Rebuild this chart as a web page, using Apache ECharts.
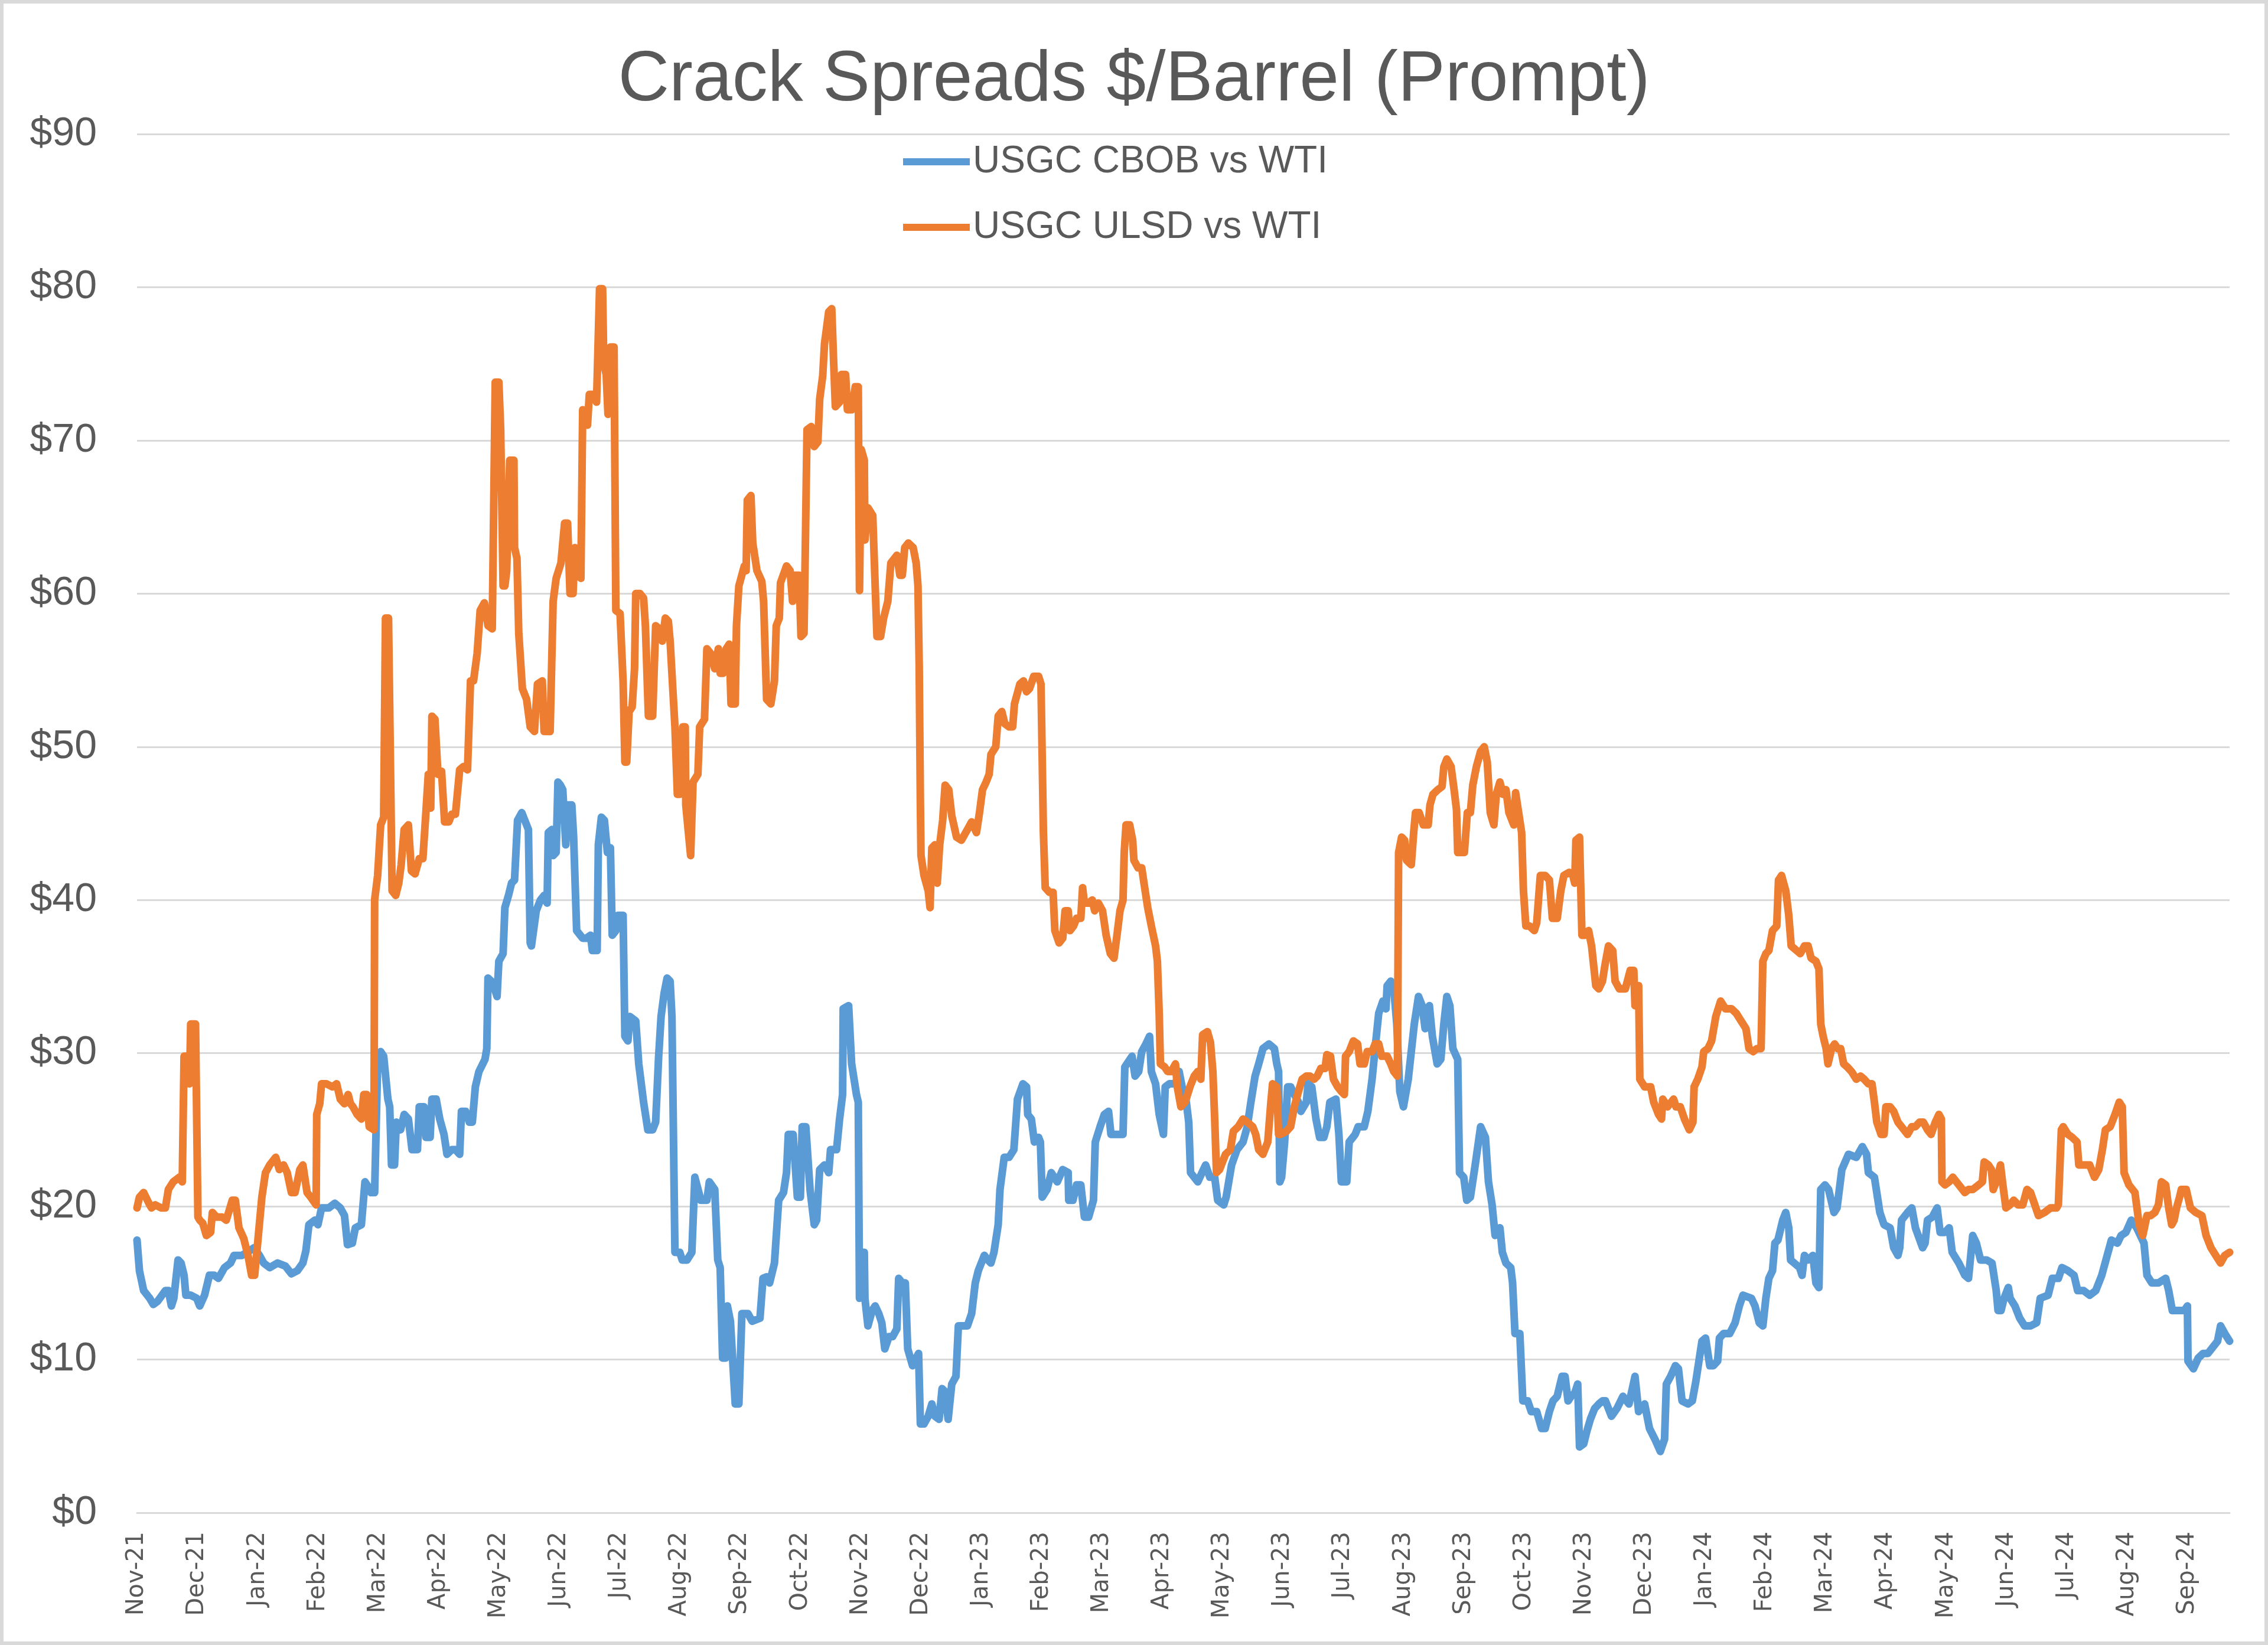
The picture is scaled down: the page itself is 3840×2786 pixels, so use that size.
<!DOCTYPE html>
<html><head><meta charset="utf-8">
<script src="https://cdn.jsdelivr.net/npm/echarts@6/dist/echarts.min.js"></script>
<style>html,body{margin:0;padding:0;background:#fff}#c{width:3840px;height:2786px}</style>
</head><body><div id="c"></div>
<script>
// x-axis tick labels (one per month, starting 1-Nov-2021)
const monthLabels = ['Nov-21','Dec-21','Jan-22','Feb-22','Mar-22','Apr-22','May-22','Jun-22','Jul-22','Aug-22','Sep-22','Oct-22','Nov-22','Dec-22','Jan-23','Feb-23','Mar-23','Apr-23','May-23','Jun-23','Jul-23','Aug-23','Sep-23','Oct-23','Nov-23','Dec-23','Jan-24','Feb-24','Mar-24','Apr-24','May-24','Jun-24','Jul-24','Aug-24','Sep-24'];
const seriesNames = ['USGC CBOB vs WTI', 'USGC ULSD vs WTI'];
// data points: [time in months elapsed since 1-Nov-2021, $/barrel]
const cbob = [[0.00,17.8],[0.04,15.8],[0.11,14.5],[0.21,14.0],[0.27,13.6],[0.34,13.8],[0.47,14.5],[0.52,14.5],[0.57,13.5],[0.61,14.0],[0.68,16.5],[0.73,16.3],[0.78,15.5],[0.81,14.2],[0.89,14.2],[0.99,14.0],[1.04,13.5],[1.12,14.2],[1.20,15.5],[1.28,15.5],[1.35,15.3],[1.45,16.0],[1.55,16.3],[1.61,16.8],[1.74,16.8],[1.87,17.1],[1.94,17.3],[2.03,16.8],[2.10,16.3],[2.20,16.0],[2.33,16.3],[2.46,16.1],[2.56,15.6],[2.66,15.8],[2.75,16.3],[2.80,17.1],[2.85,18.8],[2.95,19.1],[3.00,18.8],[3.06,19.9],[3.18,19.9],[3.28,20.2],[3.37,19.9],[3.44,19.4],[3.49,17.5],[3.57,17.6],[3.62,18.6],[3.72,18.8],[3.78,21.6],[3.83,21.3],[3.88,20.9],[3.94,20.9],[3.99,29.3],[4.04,30.1],[4.09,29.8],[4.16,27.0],[4.19,26.5],[4.22,22.7],[4.27,22.7],[4.30,25.5],[4.37,25.0],[4.43,26.0],[4.50,25.7],[4.56,23.7],[4.65,23.7],[4.68,26.5],[4.76,26.5],[4.79,24.5],[4.86,24.5],[4.89,27.0],[4.96,27.0],[5.02,25.7],[5.09,24.7],[5.14,23.4],[5.22,23.7],[5.28,23.7],[5.35,23.4],[5.38,26.2],[5.45,26.2],[5.51,25.5],[5.56,25.5],[5.61,27.8],[5.67,28.8],[5.77,29.6],[5.80,30.3],[5.82,34.9],[5.90,34.6],[5.97,33.7],[6.00,36.0],[6.07,36.5],[6.10,39.5],[6.16,40.3],[6.21,41.1],[6.26,41.3],[6.31,45.2],[6.38,45.7],[6.43,45.2],[6.49,44.6],[6.52,37.2],[6.54,37.0],[6.62,39.3],[6.69,40.0],[6.75,40.3],[6.80,39.8],[6.82,44.4],[6.88,44.6],[6.90,42.9],[6.95,43.1],[6.98,47.7],[7.02,47.5],[7.06,47.2],[7.11,43.6],[7.14,46.2],[7.21,46.2],[7.24,44.1],[7.29,38.0],[7.39,37.5],[7.45,37.5],[7.52,37.7],[7.55,36.7],[7.63,36.7],[7.65,43.6],[7.70,45.4],[7.75,45.2],[7.80,43.1],[7.85,43.4],[7.88,37.7],[7.94,38.0],[7.98,39.0],[8.06,39.0],[8.09,31.1],[8.14,30.8],[8.17,32.4],[8.27,32.1],[8.32,29.3],[8.40,26.8],[8.47,25.0],[8.55,25.0],[8.60,25.5],[8.65,29.8],[8.69,32.4],[8.74,33.9],[8.79,34.9],[8.84,34.7],[8.87,32.4],[8.92,17.0],[9.00,17.0],[9.04,16.5],[9.12,16.5],[9.20,17.0],[9.25,21.9],[9.35,20.4],[9.45,20.4],[9.49,21.6],[9.58,21.1],[9.63,16.5],[9.67,16.0],[9.71,10.1],[9.76,10.1],[9.79,13.5],[9.84,12.5],[9.92,7.1],[9.98,7.1],[10.03,13.0],[10.13,13.0],[10.20,12.5],[10.33,12.7],[10.38,15.3],[10.44,15.4],[10.49,15.0],[10.57,16.3],[10.64,20.4],[10.72,20.9],[10.77,22.2],[10.80,24.7],[10.88,24.7],[10.95,20.6],[11.00,20.6],[11.03,25.2],[11.09,25.2],[11.16,21.1],[11.23,18.8],[11.27,19.1],[11.32,22.4],[11.40,22.7],[11.47,22.2],[11.50,23.7],[11.60,23.7],[11.65,25.7],[11.70,27.3],[11.71,32.9],[11.80,33.1],[11.85,29.3],[11.93,27.3],[11.96,26.8],[11.98,14.0],[12.03,17.0],[12.06,17.0],[12.07,14.0],[12.12,12.2],[12.19,13.2],[12.24,13.5],[12.30,13.0],[12.35,12.4],[12.40,10.7],[12.47,11.5],[12.53,11.5],[12.60,12.0],[12.63,15.3],[12.69,15.0],[12.74,15.0],[12.78,10.7],[12.86,9.6],[12.92,10.1],[12.96,10.4],[12.99,5.8],[13.05,5.8],[13.12,6.3],[13.18,7.1],[13.23,6.3],[13.30,6.1],[13.35,8.1],[13.40,7.9],[13.45,6.1],[13.51,8.4],[13.58,8.9],[13.62,12.2],[13.71,12.2],[13.77,12.2],[13.84,13.0],[13.90,15.0],[13.95,15.8],[14.05,16.8],[14.11,16.5],[14.16,16.3],[14.21,17.0],[14.28,18.8],[14.31,21.1],[14.38,23.2],[14.46,23.2],[14.54,23.7],[14.60,27.0],[14.69,28.0],[14.75,27.8],[14.77,26.0],[14.83,25.7],[14.88,24.2],[14.95,24.5],[14.98,24.2],[15.01,20.6],[15.09,21.1],[15.16,22.2],[15.26,21.6],[15.35,22.4],[15.44,22.2],[15.45,20.4],[15.52,20.4],[15.58,21.4],[15.65,21.4],[15.71,19.3],[15.78,19.3],[15.86,20.4],[15.89,24.2],[15.97,25.2],[16.04,26.0],[16.11,26.2],[16.15,24.7],[16.24,24.7],[16.35,24.7],[16.38,29.1],[16.50,29.8],[16.55,28.5],[16.61,28.8],[16.66,30.1],[16.73,30.6],[16.79,31.1],[16.82,28.8],[16.89,28.0],[16.95,26.0],[17.02,24.7],[17.05,27.8],[17.12,28.0],[17.22,28.0],[17.28,28.8],[17.33,27.8],[17.40,26.8],[17.44,25.5],[17.47,22.2],[17.53,21.9],[17.59,21.6],[17.66,22.2],[17.72,22.7],[17.79,21.9],[17.87,21.9],[17.92,20.4],[18.02,20.1],[18.06,20.6],[18.15,22.7],[18.24,23.7],[18.34,24.2],[18.41,25.2],[18.47,26.8],[18.54,28.5],[18.60,29.3],[18.67,30.3],[18.77,30.6],[18.86,30.3],[18.90,29.3],[18.93,28.8],[18.95,21.6],[18.98,21.9],[19.03,24.2],[19.08,27.8],[19.13,27.8],[19.19,27.3],[19.26,26.8],[19.30,26.2],[19.39,26.8],[19.42,28.0],[19.48,27.8],[19.55,25.7],[19.61,24.5],[19.68,24.5],[19.73,25.2],[19.78,26.8],[19.88,27.0],[19.93,24.7],[19.97,21.6],[20.06,21.6],[20.10,24.2],[20.20,24.7],[20.25,25.2],[20.35,25.2],[20.41,26.2],[20.48,28.3],[20.53,30.3],[20.59,32.6],[20.66,33.4],[20.71,32.9],[20.73,34.4],[20.79,34.7],[20.84,34.2],[20.89,31.9],[20.94,27.5],[21.00,26.5],[21.08,28.3],[21.18,31.9],[21.25,33.7],[21.31,33.1],[21.36,31.6],[21.43,33.1],[21.48,31.1],[21.56,29.3],[21.62,29.6],[21.67,31.9],[21.72,33.7],[21.77,33.1],[21.82,30.3],[21.90,29.6],[21.93,22.2],[22.00,21.9],[22.05,20.4],[22.11,20.6],[22.19,22.7],[22.28,25.2],[22.36,24.5],[22.41,21.6],[22.47,20.1],[22.52,18.1],[22.60,18.6],[22.64,17.0],[22.70,16.3],[22.78,16.0],[22.81,15.0],[22.85,11.7],[22.93,11.7],[22.98,7.3],[23.06,7.3],[23.12,6.6],[23.21,6.6],[23.29,5.5],[23.35,5.5],[23.42,6.6],[23.48,7.3],[23.55,7.6],[23.63,8.9],[23.68,8.9],[23.73,7.3],[23.78,7.6],[23.84,7.8],[23.89,8.4],[23.92,4.3],[23.99,4.5],[24.04,5.3],[24.10,6.1],[24.17,6.8],[24.24,7.1],[24.30,7.3],[24.35,7.3],[24.45,6.3],[24.54,6.8],[24.64,7.6],[24.74,7.1],[24.84,8.9],[24.90,6.6],[25.00,7.1],[25.08,5.5],[25.17,4.8],[25.26,4.0],[25.33,4.8],[25.36,8.4],[25.43,8.9],[25.51,9.6],[25.56,9.4],[25.62,7.3],[25.72,7.1],[25.79,7.3],[25.85,8.6],[25.95,11.2],[26.01,11.4],[26.08,9.6],[26.14,9.6],[26.21,9.9],[26.24,11.4],[26.31,11.7],[26.41,11.7],[26.50,12.4],[26.57,13.5],[26.63,14.2],[26.77,14.0],[26.83,13.5],[26.90,12.4],[26.96,12.2],[27.01,14.0],[27.06,15.3],[27.12,15.8],[27.16,17.6],[27.21,17.8],[27.29,19.1],[27.34,19.6],[27.39,18.6],[27.42,16.5],[27.48,16.3],[27.57,16.0],[27.61,15.5],[27.65,16.8],[27.71,16.5],[27.79,16.8],[27.84,15.0],[27.89,14.7],[27.92,21.1],[27.99,21.4],[28.05,21.1],[28.14,19.6],[28.19,19.9],[28.27,22.4],[28.38,23.4],[28.51,23.2],[28.61,23.9],[28.68,23.4],[28.71,22.2],[28.81,21.9],[28.90,19.6],[28.97,18.8],[29.07,18.6],[29.13,17.3],[29.20,16.8],[29.23,17.3],[29.26,19.1],[29.36,19.6],[29.43,19.9],[29.49,18.6],[29.61,17.3],[29.65,17.6],[29.69,19.1],[29.77,19.3],[29.85,19.9],[29.90,18.3],[29.98,18.3],[30.05,18.6],[30.10,17.0],[30.21,16.3],[30.31,15.5],[30.37,15.3],[30.44,18.1],[30.50,17.6],[30.57,16.5],[30.67,16.5],[30.76,16.3],[30.83,14.5],[30.86,13.2],[30.91,13.2],[30.96,14.0],[31.03,14.7],[31.06,14.0],[31.14,13.5],[31.22,12.7],[31.30,12.2],[31.40,12.2],[31.50,12.4],[31.56,14.0],[31.69,14.2],[31.76,15.3],[31.86,15.3],[31.92,16.0],[32.02,15.8],[32.12,15.5],[32.18,14.5],[32.28,14.5],[32.38,14.2],[32.48,14.5],[32.58,15.5],[32.67,16.8],[32.74,17.8],[32.84,17.6],[32.90,18.1],[32.98,18.3],[33.07,19.1],[33.16,18.6],[33.28,17.6],[33.33,15.5],[33.41,15.0],[33.52,15.0],[33.64,15.3],[33.69,14.5],[33.75,13.2],[33.85,13.2],[33.95,13.2],[34.00,13.5],[34.01,9.9],[34.10,9.4],[34.18,10.1],[34.26,10.4],[34.34,10.4],[34.44,10.9],[34.50,11.2],[34.55,12.2],[34.62,11.7],[34.70,11.2]];
const ulsd = [[0.00,19.9],[0.04,20.6],[0.11,20.9],[0.21,20.1],[0.24,19.9],[0.30,20.1],[0.40,19.9],[0.47,19.9],[0.52,21.1],[0.60,21.6],[0.70,21.9],[0.75,21.6],[0.78,29.8],[0.84,29.8],[0.87,28.0],[0.89,31.9],[0.97,31.9],[1.01,19.3],[1.04,19.1],[1.09,18.9],[1.15,18.1],[1.22,18.3],[1.25,19.6],[1.32,19.3],[1.41,19.3],[1.48,19.1],[1.58,20.4],[1.63,20.4],[1.69,18.6],[1.77,17.9],[1.84,16.8],[1.90,15.5],[1.95,15.5],[2.00,17.6],[2.07,20.6],[2.13,22.2],[2.20,22.7],[2.30,23.2],[2.36,22.4],[2.43,22.7],[2.49,22.2],[2.56,20.9],[2.62,20.9],[2.70,22.4],[2.75,22.7],[2.82,20.9],[2.88,20.6],[2.97,20.1],[2.98,26.0],[3.03,26.7],[3.06,28.0],[3.14,28.0],[3.24,27.8],[3.31,28.0],[3.37,27.0],[3.44,26.7],[3.50,27.3],[3.54,26.7],[3.58,26.5],[3.65,26.0],[3.72,25.7],[3.76,27.3],[3.81,27.3],[3.85,25.2],[3.93,25.0],[3.94,40.0],[3.99,41.6],[4.04,44.9],[4.09,45.4],[4.12,58.4],[4.17,58.4],[4.23,40.6],[4.29,40.3],[4.34,41.1],[4.38,42.3],[4.43,44.6],[4.50,44.9],[4.55,41.9],[4.61,41.7],[4.68,42.7],[4.74,42.7],[4.79,45.7],[4.83,48.2],[4.87,46.0],[4.89,52.0],[4.94,51.8],[4.99,48.2],[5.05,48.4],[5.10,45.1],[5.17,45.1],[5.22,45.6],[5.28,45.6],[5.35,48.5],[5.41,48.7],[5.48,48.5],[5.53,54.3],[5.58,54.3],[5.64,56.1],[5.69,58.9],[5.76,59.4],[5.82,57.9],[5.89,57.7],[5.94,73.8],[6.00,73.8],[6.03,70.7],[6.07,60.5],[6.10,60.5],[6.13,61.5],[6.18,68.7],[6.25,68.7],[6.26,63.0],[6.30,62.3],[6.33,57.4],[6.39,53.8],[6.46,53.1],[6.52,51.3],[6.59,51.0],[6.64,54.1],[6.72,54.3],[6.75,51.0],[6.85,51.0],[6.90,59.5],[6.95,61.0],[7.03,62.0],[7.09,64.6],[7.14,64.6],[7.18,60.0],[7.23,60.0],[7.26,63.0],[7.36,61.0],[7.39,72.0],[7.47,71.0],[7.50,73.0],[7.57,73.0],[7.62,72.5],[7.67,79.9],[7.72,79.9],[7.74,75.0],[7.78,74.3],[7.81,71.7],[7.85,76.1],[7.91,76.1],[7.94,58.9],[8.01,58.7],[8.06,54.3],[8.09,49.0],[8.12,49.0],[8.16,52.3],[8.21,52.6],[8.25,55.1],[8.27,60.0],[8.34,60.0],[8.40,59.7],[8.43,57.9],[8.48,52.0],[8.55,52.0],[8.60,57.9],[8.66,57.7],[8.71,56.9],[8.76,58.4],[8.81,58.2],[8.84,56.9],[8.92,51.3],[8.96,46.9],[9.00,46.9],[9.05,51.3],[9.09,51.3],[9.10,46.2],[9.18,42.9],[9.22,47.7],[9.30,48.2],[9.33,51.3],[9.41,51.8],[9.45,56.4],[9.51,56.1],[9.58,55.1],[9.64,56.4],[9.67,54.8],[9.72,54.8],[9.77,56.4],[9.82,56.7],[9.85,52.8],[9.92,52.8],[9.94,57.9],[9.98,60.5],[10.07,61.8],[10.10,61.5],[10.12,66.1],[10.18,66.4],[10.21,63.3],[10.28,61.5],[10.36,60.8],[10.39,59.5],[10.44,53.1],[10.51,52.8],[10.57,54.3],[10.60,57.9],[10.65,58.4],[10.67,60.7],[10.77,61.8],[10.83,61.5],[10.87,59.5],[10.91,61.2],[10.98,61.2],[11.01,57.2],[11.06,57.4],[11.08,62.5],[11.11,70.7],[11.18,70.9],[11.23,69.6],[11.29,69.9],[11.32,72.7],[11.37,74.2],[11.40,76.3],[11.47,78.4],[11.52,78.6],[11.55,75.3],[11.58,72.2],[11.65,72.5],[11.68,74.3],[11.75,74.3],[11.78,72.0],[11.85,72.0],[11.91,73.5],[11.96,73.5],[11.98,60.2],[12.01,69.4],[12.06,68.7],[12.07,63.5],[12.12,65.6],[12.20,65.1],[12.24,60.5],[12.27,57.2],[12.33,57.2],[12.38,58.4],[12.45,59.5],[12.50,62.0],[12.60,62.5],[12.65,61.2],[12.69,61.2],[12.73,63.0],[12.79,63.3],[12.87,63.0],[12.92,62.0],[12.95,60.5],[12.97,55.4],[12.99,46.2],[13.00,42.9],[13.05,41.6],[13.12,40.6],[13.15,39.5],[13.18,43.4],[13.23,43.6],[13.27,41.1],[13.31,43.6],[13.36,45.2],[13.40,47.5],[13.46,47.2],[13.51,45.5],[13.59,44.1],[13.67,43.9],[13.77,44.6],[13.84,45.1],[13.92,44.4],[13.97,45.7],[14.02,47.2],[14.08,47.7],[14.13,48.2],[14.16,49.5],[14.24,50.0],[14.28,52.0],[14.34,52.3],[14.39,51.5],[14.46,51.3],[14.52,51.3],[14.55,52.8],[14.64,54.1],[14.70,54.3],[14.75,53.6],[14.80,53.8],[14.87,54.6],[14.95,54.6],[14.99,54.1],[15.03,44.4],[15.06,40.8],[15.13,40.5],[15.19,40.5],[15.22,38.0],[15.29,37.2],[15.35,37.5],[15.39,39.3],[15.44,39.3],[15.47,38.0],[15.53,38.3],[15.58,38.8],[15.65,38.8],[15.68,40.8],[15.71,39.8],[15.78,39.8],[15.84,40.0],[15.88,39.3],[15.94,39.8],[16.01,39.3],[16.07,37.7],[16.14,36.5],[16.20,36.2],[16.25,37.7],[16.30,39.3],[16.35,40.0],[16.37,43.1],[16.40,44.9],[16.46,44.9],[16.51,43.9],[16.53,42.6],[16.60,42.1],[16.66,42.1],[16.69,41.3],[16.76,39.5],[16.82,38.3],[16.89,37.0],[16.92,36.0],[16.95,32.6],[16.97,29.3],[17.04,29.1],[17.09,28.8],[17.15,28.8],[17.22,29.3],[17.25,27.8],[17.31,26.5],[17.38,26.8],[17.46,27.8],[17.53,28.5],[17.59,28.8],[17.64,28.3],[17.67,31.2],[17.75,31.4],[17.80,30.7],[17.84,28.8],[17.87,25.7],[17.90,22.2],[17.95,22.4],[18.05,23.4],[18.13,23.7],[18.18,24.9],[18.26,25.2],[18.34,25.7],[18.41,25.5],[18.50,25.2],[18.55,24.7],[18.60,23.7],[18.67,23.4],[18.75,24.2],[18.80,26.7],[18.83,28.0],[18.90,27.8],[18.93,24.7],[18.96,24.7],[19.06,24.9],[19.13,25.2],[19.19,26.5],[19.26,27.5],[19.32,28.3],[19.39,28.5],[19.45,28.5],[19.52,28.3],[19.57,28.5],[19.63,29.0],[19.70,29.0],[19.73,29.9],[19.79,29.8],[19.84,28.3],[19.91,27.8],[19.97,27.5],[20.02,27.3],[20.04,29.8],[20.10,30.1],[20.17,30.8],[20.24,30.6],[20.28,29.3],[20.35,29.3],[20.40,30.1],[20.48,30.1],[20.53,30.6],[20.59,30.6],[20.64,29.8],[20.73,29.8],[20.79,29.3],[20.84,28.8],[20.90,28.5],[20.92,43.1],[20.97,44.1],[21.02,43.9],[21.05,42.6],[21.13,42.3],[21.17,44.4],[21.20,45.7],[21.26,45.7],[21.33,44.9],[21.41,44.9],[21.44,46.2],[21.49,46.9],[21.57,47.2],[21.64,47.4],[21.67,48.7],[21.72,49.2],[21.79,48.7],[21.84,47.2],[21.88,45.9],[21.90,43.1],[22.01,43.1],[22.06,45.7],[22.11,45.7],[22.15,47.5],[22.21,48.7],[22.28,49.7],[22.34,50.0],[22.39,49.0],[22.44,45.7],[22.50,44.9],[22.54,46.9],[22.60,47.7],[22.65,46.9],[22.70,47.2],[22.75,45.7],[22.83,44.9],[22.86,47.0],[22.91,45.7],[22.96,44.4],[22.99,40.6],[23.03,38.3],[23.09,38.3],[23.17,38.0],[23.21,38.5],[23.27,41.6],[23.35,41.6],[23.42,41.3],[23.47,38.8],[23.55,38.8],[23.61,40.6],[23.66,41.6],[23.75,41.8],[23.81,41.6],[23.84,41.1],[23.86,43.9],[23.92,44.1],[23.96,37.7],[24.01,37.7],[24.07,38.0],[24.12,37.0],[24.19,34.4],[24.24,34.2],[24.30,34.7],[24.34,35.7],[24.40,37.0],[24.47,36.7],[24.51,34.7],[24.58,34.2],[24.68,34.2],[24.76,35.4],[24.82,35.4],[24.84,33.1],[24.90,34.4],[24.92,28.3],[25.00,27.8],[25.10,27.8],[25.15,26.8],[25.23,26.0],[25.28,25.7],[25.30,27.0],[25.38,26.5],[25.48,27.0],[25.52,26.5],[25.59,26.5],[25.66,25.7],[25.74,25.0],[25.80,25.5],[25.82,27.8],[25.88,28.3],[25.95,29.1],[25.98,30.1],[26.05,30.3],[26.11,30.8],[26.18,32.4],[26.26,33.4],[26.34,32.9],[26.44,32.9],[26.52,32.6],[26.60,32.1],[26.68,31.6],[26.73,30.3],[26.80,30.1],[26.86,30.3],[26.93,30.3],[26.96,36.0],[27.01,36.5],[27.06,36.7],[27.12,38.0],[27.19,38.3],[27.22,41.3],[27.27,41.6],[27.34,40.6],[27.39,39.0],[27.43,37.0],[27.52,36.7],[27.58,36.5],[27.65,37.0],[27.71,37.0],[27.76,36.2],[27.84,36.0],[27.89,35.5],[27.92,31.9],[27.96,31.1],[28.01,30.3],[28.04,29.3],[28.10,30.3],[28.15,30.6],[28.20,30.3],[28.25,30.3],[28.30,29.3],[28.36,29.1],[28.43,28.8],[28.51,28.3],[28.58,28.5],[28.64,28.3],[28.71,28.0],[28.77,28.0],[28.81,26.8],[28.85,25.5],[28.92,24.7],[28.97,24.7],[29.00,26.5],[29.07,26.5],[29.13,26.2],[29.20,25.5],[29.26,25.2],[29.36,24.7],[29.43,25.2],[29.49,25.2],[29.56,25.5],[29.62,25.5],[29.69,25.0],[29.75,24.7],[29.82,25.5],[29.88,26.0],[29.92,25.7],[29.93,21.6],[29.98,21.4],[30.05,21.6],[30.11,21.9],[30.21,21.4],[30.31,20.9],[30.37,21.1],[30.44,21.1],[30.54,21.4],[30.60,21.6],[30.63,22.9],[30.70,22.7],[30.75,22.4],[30.78,21.1],[30.83,21.6],[30.90,22.7],[30.94,21.4],[30.99,19.9],[31.06,20.1],[31.12,20.4],[31.19,20.1],[31.27,20.1],[31.34,21.1],[31.40,20.9],[31.47,20.1],[31.53,19.4],[31.63,19.6],[31.73,19.9],[31.83,19.9],[31.86,20.1],[31.91,25.0],[31.94,25.2],[32.02,24.7],[32.09,24.5],[32.17,24.2],[32.20,22.7],[32.28,22.7],[32.38,22.7],[32.46,21.9],[32.53,22.4],[32.59,23.7],[32.64,25.0],[32.72,25.2],[32.80,26.0],[32.87,26.8],[32.92,26.5],[32.95,22.2],[33.03,21.4],[33.13,20.9],[33.20,18.8],[33.26,18.1],[33.33,19.4],[33.39,19.4],[33.46,19.6],[33.52,20.1],[33.57,21.6],[33.64,21.4],[33.69,19.9],[33.74,18.8],[33.78,19.1],[33.82,19.9],[33.87,20.6],[33.90,21.1],[33.98,21.1],[34.05,19.9],[34.14,19.6],[34.24,19.4],[34.31,18.1],[34.39,17.3],[34.47,16.8],[34.55,16.3],[34.62,16.8],[34.70,17.0]];

const chart = echarts.init(document.getElementById('c'), null, {renderer: 'canvas'});
const grayText = '#595959';
const gridColor = '#d9d9d9';
chart.setOption({
  animation: false,
  backgroundColor: '#ffffff',
  title: {
    text: 'Crack Spreads $/Barrel (Prompt)',
    left: 'center', top: 72,
    textStyle: {fontFamily: 'Liberation Sans', fontSize: 120, fontWeight: 'normal', color: grayText}
  },
  legend: {
    orient: 'vertical', left: 1524, top: 237,
    icon: 'rect', itemWidth: 113, itemHeight: 12, itemGap: 47,
    data: seriesNames,
    textStyle: {fontFamily: 'Liberation Sans', fontSize: 64, color: grayText, lineHeight: 64}
  },
  graphic: [{
    type: 'rect', silent: true,
    shape: {x: 3, y: 3, width: 3834, height: 2780},
    style: {fill: 'none', stroke: gridColor, lineWidth: 6}
  }],
  grid: {left: 232, right: 65, top: 227, bottom: 224, containLabel: false},
  xAxis: {
    type: 'value', min: 0, max: 34.70, interval: 1,
    axisLine: {show: true, lineStyle: {color: gridColor, width: 3}},
    axisTick: {show: false},
    splitLine: {show: false},
    axisLabel: {
      rotate: 90, margin: 32, showMaxLabel: false,
      fontFamily: 'DejaVu Sans', fontSize: 40, color: grayText,
      formatter: function (v) {
        const r = Math.round(v);
        return Math.abs(v - r) < 1e-6 && monthLabels[r] ? monthLabels[r] : '';
      }
    }
  },
  yAxis: {
    type: 'value', min: 0, max: 90, interval: 10,
    axisLine: {show: false}, axisTick: {show: false},
    splitLine: {show: true, lineStyle: {color: gridColor, width: 3}},
    axisLabel: {
      margin: 68, fontFamily: 'Liberation Sans', fontSize: 68, color: grayText,
      formatter: function (v) { return '$' + v; }
    }
  },
  series: [
    {name: seriesNames[0], type: 'line', data: cbob, showSymbol: false, symbol: 'none',
     color: '#5b9bd5', lineStyle: {width: 13, color: '#5b9bd5', cap: 'round', join: 'round'}},
    {name: seriesNames[1], type: 'line', data: ulsd, showSymbol: false, symbol: 'none',
     color: '#ed7d31', lineStyle: {width: 13, color: '#ed7d31', cap: 'round', join: 'round'}}
  ]
});
</script></body></html>
